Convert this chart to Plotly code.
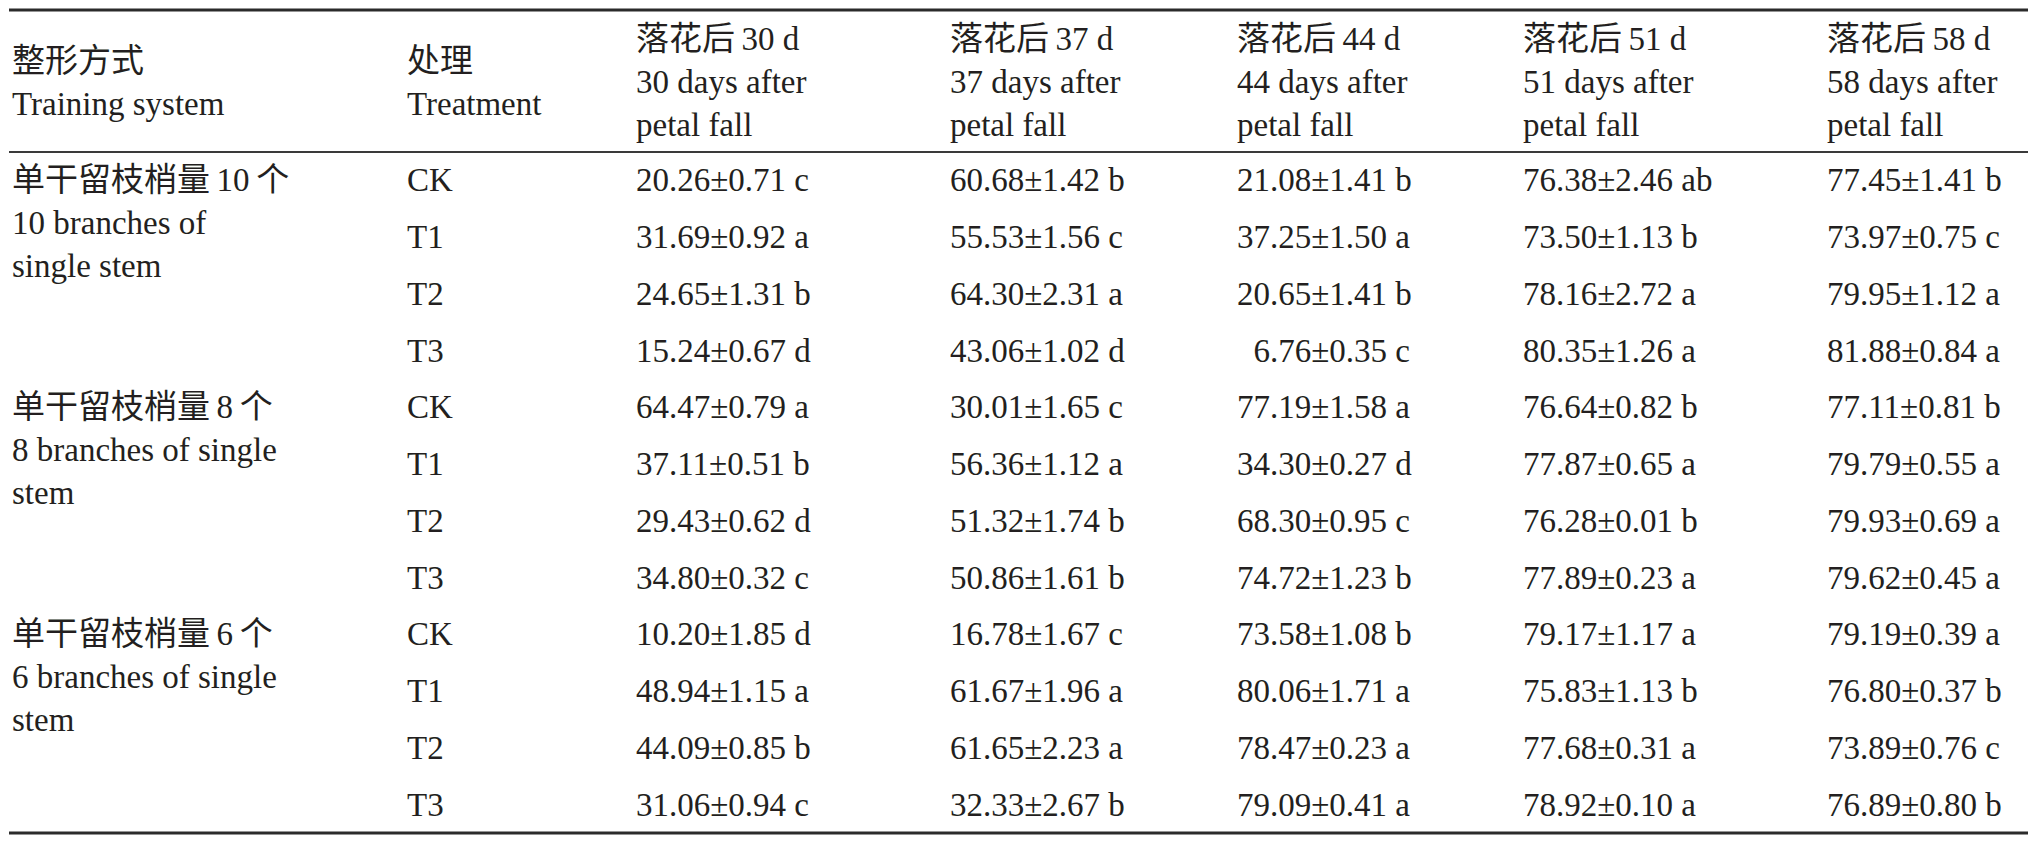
import plotly.graph_objects as go

# ---------------- data ----------------
header_system = "整形方式<br>Training system"
header_treat = "处理<br>Treatment"
header_days = [
    "落花后\u200930 d<br>30 days after<br>petal fall",
    "落花后\u200937 d<br>37 days after<br>petal fall",
    "落花后\u200944 d<br>44 days after<br>petal fall",
    "落花后\u200951 d<br>51 days after<br>petal fall",
    "落花后\u200958 d<br>58 days after<br>petal fall",
]

systems = [
    "单干留枝梢量\u200910\u2009个<br>10 branches of<br>single stem",
    "单干留枝梢量\u20098\u2009个<br>8 branches of single<br>stem",
    "单干留枝梢量\u20096\u2009个<br>6 branches of single<br>stem",
]
treatments = ["CK", "T1", "T2", "T3"] * 3

day30 = ["20.26±0.71 c", "31.69±0.92 a", "24.65±1.31 b", "15.24±0.67 d",
         "64.47±0.79 a", "37.11±0.51 b", "29.43±0.62 d", "34.80±0.32 c",
         "10.20±1.85 d", "48.94±1.15 a", "44.09±0.85 b", "31.06±0.94 c"]
day37 = ["60.68±1.42 b", "55.53±1.56 c", "64.30±2.31 a", "43.06±1.02 d",
         "30.01±1.65 c", "56.36±1.12 a", "51.32±1.74 b", "50.86±1.61 b",
         "16.78±1.67 c", "61.67±1.96 a", "61.65±2.23 a", "32.33±2.67 b"]
day44 = ["21.08±1.41 b", "37.25±1.50 a", "20.65±1.41 b", "\u20076.76±0.35 c",
         "77.19±1.58 a", "34.30±0.27 d", "68.30±0.95 c", "74.72±1.23 b",
         "73.58±1.08 b", "80.06±1.71 a", "78.47±0.23 a", "79.09±0.41 a"]
day51 = ["76.38±2.46 ab", "73.50±1.13 b", "78.16±2.72 a", "80.35±1.26 a",
         "76.64±0.82 b", "77.87±0.65 a", "76.28±0.01 b", "77.89±0.23 a",
         "79.17±1.17 a", "75.83±1.13 b", "77.68±0.31 a", "78.92±0.10 a"]
day58 = ["77.45±1.41 b", "73.97±0.75 c", "79.95±1.12 a", "81.88±0.84 a",
         "77.11±0.81 b", "79.79±0.55 a", "79.93±0.69 a", "79.62±0.45 a",
         "79.19±0.39 a", "76.80±0.37 b", "73.89±0.76 c", "76.89±0.80 b"]
day_columns = [day30, day37, day44, day51, day58]

# ---------------- layout constants ----------------
W, H = 2034, 843
FONT = "Liberation Serif, Times New Roman, Noto Sans CJK SC, serif"
FSIZE = 33
COLOR = "#231f20"
COL_X = [10, 405, 634, 948, 1235, 1521, 1825]
TOP_RULE, MID_RULE, BOT_RULE = 10, 152, 833
RULE_X0, RULE_X1 = 9, 2028
HEADER_Y = 82
N_ROWS = len(treatments)
ROW_H = (BOT_RULE - MID_RULE) / N_ROWS
LINE_H = 42.5


def row_y(i):
    return MID_RULE + ROW_H * (i + 0.5)


annotations = []


def add_text(x, y, text):
    annotations.append(dict(
        x=x, y=y, xref="x", yref="y", text=text, showarrow=False,
        xanchor="left", yanchor="middle", align="left",
        font=dict(family=FONT, size=FSIZE, color=COLOR),
    ))


# header
add_text(COL_X[0], HEADER_Y, header_system)
add_text(COL_X[1], HEADER_Y, header_treat)
for j, h in enumerate(header_days):
    add_text(COL_X[2 + j], HEADER_Y, h)

# group labels (three lines starting at first row of each group)
for g, label in enumerate(systems):
    add_text(COL_X[0], row_y(g * 4) + LINE_H, label)

# treatments and values
for i, t in enumerate(treatments):
    add_text(COL_X[1], row_y(i), t)
    for j, col in enumerate(day_columns):
        add_text(COL_X[2 + j], row_y(i), col[i])

shapes = [
    dict(type="line", xref="x", yref="y", x0=RULE_X0, x1=RULE_X1,
         y0=TOP_RULE, y1=TOP_RULE, line=dict(color="#2b2b2b", width=3)),
    dict(type="line", xref="x", yref="y", x0=RULE_X0, x1=RULE_X1,
         y0=MID_RULE, y1=MID_RULE, line=dict(color="#3a3a3a", width=2)),
    dict(type="line", xref="x", yref="y", x0=RULE_X0, x1=RULE_X1,
         y0=BOT_RULE, y1=BOT_RULE, line=dict(color="#2b2b2b", width=3)),
]

fig = go.Figure()
fig.update_layout(
    width=W, height=H,
    margin=dict(l=0, r=0, t=0, b=0),
    paper_bgcolor="white", plot_bgcolor="white",
    xaxis=dict(range=[0, W], visible=False, fixedrange=True),
    yaxis=dict(range=[H, 0], visible=False, fixedrange=True),
    annotations=annotations, shapes=shapes, showlegend=False,
)
fig.write_html(
    "out.html",
    config={"displayModeBar": False},
    post_script="document.body.style.margin='0px';document.body.style.overflow='hidden';",
)
